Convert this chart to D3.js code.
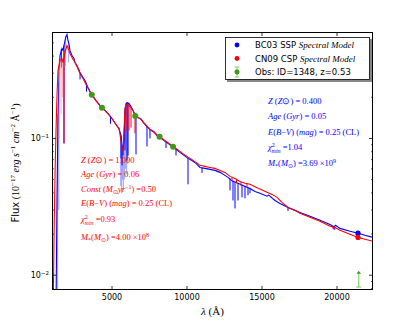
<!DOCTYPE html>
<html>
<head>
<meta charset="utf-8">
<script src="https://cdn.jsdelivr.net/npm/d3@7"></script>
<style>
  body { margin: 0; background: #fff; }
  svg { display: block; }
  .tk { font-family: "DejaVu Sans"; font-size: 8px; fill: #000; }
  .mt { font-family: "Liberation Serif"; font-size: 8.5px; }
  .lg { font-family: "DejaVu Sans"; font-size: 8.5px; fill: #000; }
</style>
</head>
<body>
<div id="chart"></div>
<script>
// D A T A  (wavelength in Angstrom, flux in 1e-17 erg/s/cm2/A)

// BC03 SSP model, main trace
var bc03Spec = [[1270,0.006],[1333,0.0352],[1400,0.135],[1467,0.313],[1533,0.404],[1667,0.454],[1733,0.44],
  [1867,0.519],[1933,0.556],[2000,0.575],[2067,0.519],[2133,0.49],[2200,0.438],[2333,0.404],[2467,0.384],
  [2533,0.359],[2667,0.341],[2867,0.303],[3067,0.279],[3200,0.265],[3400,0.235],[3533,0.22],[3667,0.209],
  [3933,0.189],[4200,0.174],[4467,0.163],[4733,0.152],[5000,0.14],[5267,0.126],[5467,0.118],[5600,0.105],
  [5667,0.0889],[5733,0.0817],[5800,0.0967],[5867,0.16],[5933,0.18],[6000,0.183],[6133,0.18],[6267,0.171],
  [6400,0.16],[6533,0.147],[6733,0.142],[6933,0.138],[7133,0.129],[7333,0.122],[7533,0.116],[7800,0.111],
  [8000,0.105],[8200,0.102],[8467,0.0967],[8733,0.092],[9000,0.0875],[9267,0.0832],[9533,0.0791],[9800,0.0752],
  [10067,0.0715],[10333,0.069],[10600,0.0657],[10867,0.0614],[11200,0.0604],[11533,0.0594],[11867,0.0584],
  [12200,0.0565],[12533,0.0537],[12733,0.0519],[13000,0.049],[13400,0.047],[13800,0.045],[14200,0.0431],
  [14533,0.041],[14867,0.0397],[15333,0.0378],[15450,0.0385],[15867,0.0352],[16200,0.0335],[16733,0.0313],
  [17200,0.0298],[17533,0.0288],[18200,0.027],[18867,0.0252],[19533,0.0235],[19800,0.0226],[19900,0.0232],
  [20200,0.022],[20867,0.021],[21400,0.0203],[21867,0.0196],[22400,0.0189]];

// BC03 absorption features [wave, top, bottom]
var bc03Lines = [[1800,0.48,0.092],[1620,0.45,0.33],[2870,0.303,0.27],[3300,0.25,0.22],[4900,0.145,0.128],
  [5600,0.105,0.0715],[5667,0.0889,0.0636],[5733,0.0817,0.0752],[5867,0.16,0.0817],[6000,0.183,0.069],
  [6067,0.182,0.075],[6600,0.146,0.0764],[7333,0.122,0.0875],[7533,0.116,0.1],[8600,0.094,0.085],
  [9267,0.0832,0.0752],[10067,0.0715,0.0462],[11000,0.061,0.056],[12867,0.051,0.0417],[13067,0.049,0.0352],
  [13200,0.048,0.0308],[13400,0.047,0.0352],[13667,0.046,0.0371],[13867,0.045,0.0365],[14067,0.044,0.0384],
  [14200,0.043,0.0397],[16733,0.0313,0.0295],[19850,0.0228,0.0215]];

// BC03 faint (noisy) features [wave, top, bottom]
var bc03Faint = [[1367,0.15,0.005],[1450,0.26,0.03],[1900,0.56,0.34],[2100,0.52,0.36],[5580,0.11,0.045],
  [5640,0.1,0.04],[5700,0.09,0.05],[5760,0.09,0.042],[5830,0.12,0.05],[5900,0.17,0.06],[5970,0.18,0.055],
  [6050,0.18,0.065]];

// CN09 CSP model, main trace
var cn09Spec = [[1067,0.004],[1133,0.018],[1200,0.0537],[1267,0.114],[1333,0.206],[1400,0.313],[1533,0.371],
  [1667,0.384],[1733,0.359],[1867,0.425],[2000,0.478],[2067,0.461],[2200,0.417],[2333,0.39],[2533,0.359],
  [2667,0.336],[2867,0.298],[3067,0.274],[3267,0.248],[3467,0.228],[3667,0.206],[3933,0.189],[4200,0.174],
  [4467,0.163],[4733,0.152],[5000,0.14],[5267,0.127],[5467,0.118],[5600,0.0967],[5667,0.0845],[5733,0.0817],
  [5800,0.114],[5867,0.166],[5933,0.177],[6067,0.177],[6200,0.171],[6400,0.16],[6533,0.15],[6733,0.143],
  [6933,0.139],[7133,0.13],[7333,0.123],[7533,0.117],[7800,0.112],[8000,0.106],[8200,0.103],[8467,0.0975],
  [8733,0.093],[9000,0.0885],[9267,0.0845],[9533,0.0805],[9800,0.0765],[10067,0.073],[10333,0.07],
  [10600,0.0668],[10867,0.0636],[11200,0.0625],[11533,0.0614],[11867,0.0604],[12200,0.0584],[12533,0.0565],
  [12867,0.0528],[13200,0.051],[13533,0.0485],[13867,0.047],[14200,0.0462],[14600,0.0439],[14933,0.0424],
  [15333,0.0404],[15667,0.039],[16000,0.0371],[16333,0.0341],[16733,0.0313],[17200,0.0298],[17533,0.0284],
  [18200,0.0265],[18867,0.0248],[19533,0.0228],[19700,0.0226],[19750,0.0219],[19800,0.0225],[20200,0.0213],
  [20867,0.0199],[21400,0.0189],[21867,0.0183],[22400,0.0177]];

var cn09Lines = [[1800,0.44,0.092],[6000,0.177,0.114],[6133,0.175,0.114],[6267,0.17,0.12],[6533,0.15,0.109],
  [13000,0.052,0.049],[13300,0.05,0.047],[13600,0.048,0.045],[14000,0.047,0.044]];

var cn09Faint = [[1480,0.37,0.1],[1600,0.38,0.15],[1700,0.37,0.2]];

// photometry
var obsWave = [3650, 4333, 6550, 8170, 9070];
var obsFlux = [0.209, 0.168, 0.146, 0.103, 0.087];
var kWave = 21450, kLow = 0.0082, kHigh = 0.0108;

// model fluxes in K
var modelKWave = 21400;
var bc03K = 0.0203, cn09K = 0.0189;

var xTicks = [5000, 10000, 15000, 20000];
var yMajor = [0.01, 0.1];
var yMinor = [0.008, 0.009, 0.02, 0.03, 0.04, 0.05, 0.06, 0.07, 0.08, 0.09, 0.2, 0.3, 0.4, 0.5];

window.onload = function () {
  const W = 415, H = 323;
  const L = 52, R = 373, T = 32, B = 290;
  const BLUE = '#0000ff', RED = '#ff0000', GREEN = '#3f9a1c', LGREEN = '#86d06c';

  var svg = d3.select('#chart').append('svg').attr('width', W).attr('height', H);

  var x = d3.scaleLinear().domain([1000, 22400]).range([L, R]);
  var y = d3.scaleLog().domain([0.0078, 0.6]).range([B, T]);

  svg.append('clipPath').attr('id', 'clip')
    .append('rect').attr('x', L).attr('y', T).attr('width', R - L).attr('height', B - T);

  var plot = svg.append('g').attr('clip-path', 'url(#clip)');
  var line = d3.line().x(function (d) { return x(d[0]); }).y(function (d) { return y(d[1]); });

  // S P E C T R A
  function drawModel(spec, lines, faint, col, light) {
    plot.selectAll(null).data(faint).enter().append('line')
      .attr('x1', function (d) { return x(d[0]); }).attr('x2', function (d) { return x(d[0]); })
      .attr('y1', function (d) { return y(d[1]); }).attr('y2', function (d) { return y(d[2]); })
      .attr('stroke', light).attr('stroke-width', 1.2).attr('opacity', 0.7);
    plot.append('path').datum(spec).attr('d', line)
      .attr('fill', 'none').attr('stroke', col).attr('stroke-width', 1.1);
    plot.selectAll(null).data(lines).enter().append('line')
      .attr('x1', function (d) { return x(d[0]); }).attr('x2', function (d) { return x(d[0]); })
      .attr('y1', function (d) { return y(d[1]); }).attr('y2', function (d) { return y(d[2]); })
      .attr('stroke', col).attr('stroke-width', 1);
  }
  drawModel(bc03Spec, bc03Lines, bc03Faint, BLUE, '#8c8cff');
  drawModel(cn09Spec, cn09Lines, cn09Faint, RED, '#ff9a9a');

  // model K points
  plot.append('circle').attr('cx', x(modelKWave)).attr('cy', y(bc03K)).attr('r', 2.6).attr('fill', BLUE);
  plot.append('circle').attr('cx', x(modelKWave)).attr('cy', y(cn09K)).attr('r', 2.6).attr('fill', RED);

  // O B S E R V A T I O N S
  plot.selectAll(null).data(obsWave).enter().append('circle')
    .attr('cx', function (d) { return x(d); })
    .attr('cy', function (d, i) { return y(obsFlux[i]); })
    .attr('r', 3).attr('fill', GREEN);

  plot.append('line').attr('x1', x(kWave)).attr('x2', x(kWave))
    .attr('y1', y(kLow)).attr('y2', y(kHigh) + 2).attr('stroke', LGREEN).attr('stroke-width', 1.2);
  plot.append('line').attr('x1', x(kWave) - 2.5).attr('x2', x(kWave) + 2.5)
    .attr('y1', y(kLow)).attr('y2', y(kLow)).attr('stroke', LGREEN).attr('stroke-width', 1.2);
  var ky = y(kHigh), kx = x(kWave);
  plot.append('path').attr('d', 'M' + (kx - 2.3) + ',' + (ky + 3) + 'L' + kx + ',' + ky + 'L' + (kx + 2.3) + ',' + (ky + 3) + 'Z')
    .attr('fill', GREEN);

  // A X E S
  var ax = svg.append('g');
  ax.selectAll(null).data(xTicks).enter().append('line')
    .attr('x1', function (d) { return x(d); }).attr('x2', function (d) { return x(d); })
    .attr('y1', B).attr('y2', B - 4).attr('stroke', '#000').attr('stroke-width', 0.8);
  ax.selectAll(null).data(xTicks).enter().append('line')
    .attr('x1', function (d) { return x(d); }).attr('x2', function (d) { return x(d); })
    .attr('y1', T).attr('y2', T + 4).attr('stroke', '#000').attr('stroke-width', 0.8);
  ax.selectAll(null).data(xTicks).enter().append('text').attr('class', 'tk')
    .attr('x', function (d) { return x(d); }).attr('y', B + 10).attr('text-anchor', 'middle')
    .text(function (d) { return d; });

  [L, R].forEach(function (sx) {
    var dir = sx === L ? 1 : -1;
    ax.selectAll(null).data(yMajor).enter().append('line')
      .attr('x1', sx).attr('x2', sx + dir * 4)
      .attr('y1', function (d) { return y(d); }).attr('y2', function (d) { return y(d); })
      .attr('stroke', '#000').attr('stroke-width', 0.8);
    ax.selectAll(null).data(yMinor).enter().append('line')
      .attr('x1', sx).attr('x2', sx + dir * 2)
      .attr('y1', function (d) { return y(d); }).attr('y2', function (d) { return y(d); })
      .attr('stroke', '#000').attr('stroke-width', 0.6);
  });
  ax.selectAll(null).data(yMajor).enter().append('text').attr('class', 'tk')
    .attr('x', L - 3).attr('y', function (d) { return y(d) + 3; }).attr('text-anchor', 'end')
    .html(function (d) {
      return '10<tspan font-size="5.5px" baseline-shift="3.5">' + '\u2212' + Math.round(-Math.log10(d)) + '</tspan>';
    });

  ax.append('rect').attr('x', L + 0.5).attr('y', T + 0.5).attr('width', R - L - 1).attr('height', B - T - 1)
    .attr('fill', 'none').attr('stroke', '#000').attr('stroke-width', 1);

  // L A B E L S
  var S = function (s) { return '<tspan font-size="7px" baseline-shift="4">' + s + '</tspan>'; };
  svg.append('text').attr('transform', 'translate(19,' + ((T + B) / 2 + 2) + ') rotate(-90)')
    .attr('text-anchor', 'middle').style('font-size', '10px')
    .html('<tspan font-family="DejaVu Sans">Flux</tspan><tspan font-family="Liberation Serif"> (10' +
      S('\u221217') + '<tspan font-style="italic"> erg s</tspan>' + S('\u22121') +
      '<tspan font-style="italic"> cm</tspan>' + S('\u22122') + '<tspan> \u00c5</tspan>' + S('\u22121') +
      '<tspan>)</tspan></tspan>');

  svg.append('text').attr('x', (L + R) / 2).attr('y', 315).attr('text-anchor', 'middle')
    .style('font-family', 'Liberation Serif').style('font-size', '11px')
    .html('<tspan font-style="italic">\u03bb</tspan> (\u00c5)');

  // A N N O T A T I O N S
  var I = function (s) { return '<tspan font-style="italic">' + s + '</tspan>'; };
  var SUB = function (s) { return '<tspan font-size="6px" baseline-shift="-2">' + s + '</tspan>'; };
  var SUP = function (s) { return '<tspan font-size="6px" baseline-shift="3.5">' + s + '</tspan>'; };
  var chi = I('\u03c7') + '<tspan font-size="6px" baseline-shift="3.5">2</tspan>' +
    '<tspan font-size="6px" font-style="italic" dx="-3.2" baseline-shift="-2.5">min</tspan>';

  var redNotes = [
    I('Z') + ' (' + I('Z') + '\u2299) = 1.000',
    I('Age') + ' (' + I('Gyr') + ') = 0.06',
    I('Const') + ' (' + I('M') + SUB('\u2299') + I('yr') + SUP('\u22121') + ') =0.50',
    I('E') + '(' + I('B') + '\u2212' + I('V') + ') (' + I('mag') + ') = 0.25 (CL)',
    chi + ' =0.93',
    I('M') + SUB('*') + '(' + I('M') + SUB('\u2299') + ') =4.00 \u00d710' + SUP('8')
  ];
  var redY = [163, 177, 192, 206, 222, 240];
  var blueNotes = [
    I('Z') + ' (' + I('Z') + '\u2299) = 0.400',
    I('Age') + ' (' + I('Gyr') + ') = 0.05',
    I('E') + '(' + I('B') + '\u2212' + I('V') + ') (' + I('mag') + ') = 0.25 (CL)',
    chi + ' =1.04',
    I('M') + SUB('*') + '(' + I('M') + SUB('\u2299') + ') =3.69 \u00d710' + SUP('9')
  ];
  var blueY = [104, 119, 135, 150, 166];

  svg.selectAll(null).data(redNotes).enter().append('text').attr('class', 'mt')
    .attr('x', 81).attr('y', function (d, i) { return redY[i]; }).attr('fill', RED)
    .html(function (d) { return d; });
  svg.selectAll(null).data(blueNotes).enter().append('text').attr('class', 'mt')
    .attr('x', 268).attr('y', function (d, i) { return blueY[i]; }).attr('fill', BLUE)
    .html(function (d) { return d; });

  // L E G E N D
  var lg = svg.append('g');
  lg.append('rect').attr('x', 227).attr('y', 39).attr('width', 145).attr('height', 43).attr('fill', '#888');
  lg.append('rect').attr('x', 225.5).attr('y', 37.5).attr('width', 144).attr('height', 42)
    .attr('fill', '#fff').attr('stroke', '#000').attr('stroke-width', 0.8);
  var entries = [
    ['BC03 SSP ', 'Spectral Model', BLUE],
    ['CN09 CSP ', 'Spectral Model', RED],
    ['Obs: ID=1348, z=0.53', '', GREEN]
  ];
  var ly = [45, 58.5, 72];
  entries.forEach(function (e, i) {
    lg.append('circle').attr('cx', 237).attr('cy', ly[i]).attr('r', 2.4).attr('fill', e[2]);
    var t = lg.append('text').attr('class', 'lg').attr('x', 255).attr('y', ly[i] + 3);
    t.append('tspan').text(e[0]);
    if (e[1]) t.append('tspan').attr('font-family', 'Liberation Serif').attr('font-style', 'italic')
      .attr('font-size', '9px').text(e[1]);
  });
  lg.append('line').attr('x1', 237).attr('x2', 237).attr('y1', 67).attr('y2', 77)
    .attr('stroke', LGREEN).attr('stroke-width', 1);
  lg.append('line').attr('x1', 234.5).attr('x2', 239.5).attr('y1', 67).attr('y2', 67).attr('stroke', LGREEN);
  lg.append('line').attr('x1', 234.5).attr('x2', 239.5).attr('y1', 77).attr('y2', 77).attr('stroke', LGREEN);
  lg.append('circle').attr('cx', 237).attr('cy', 72).attr('r', 2.4).attr('fill', GREEN);
};
</script>
</body>
</html>
